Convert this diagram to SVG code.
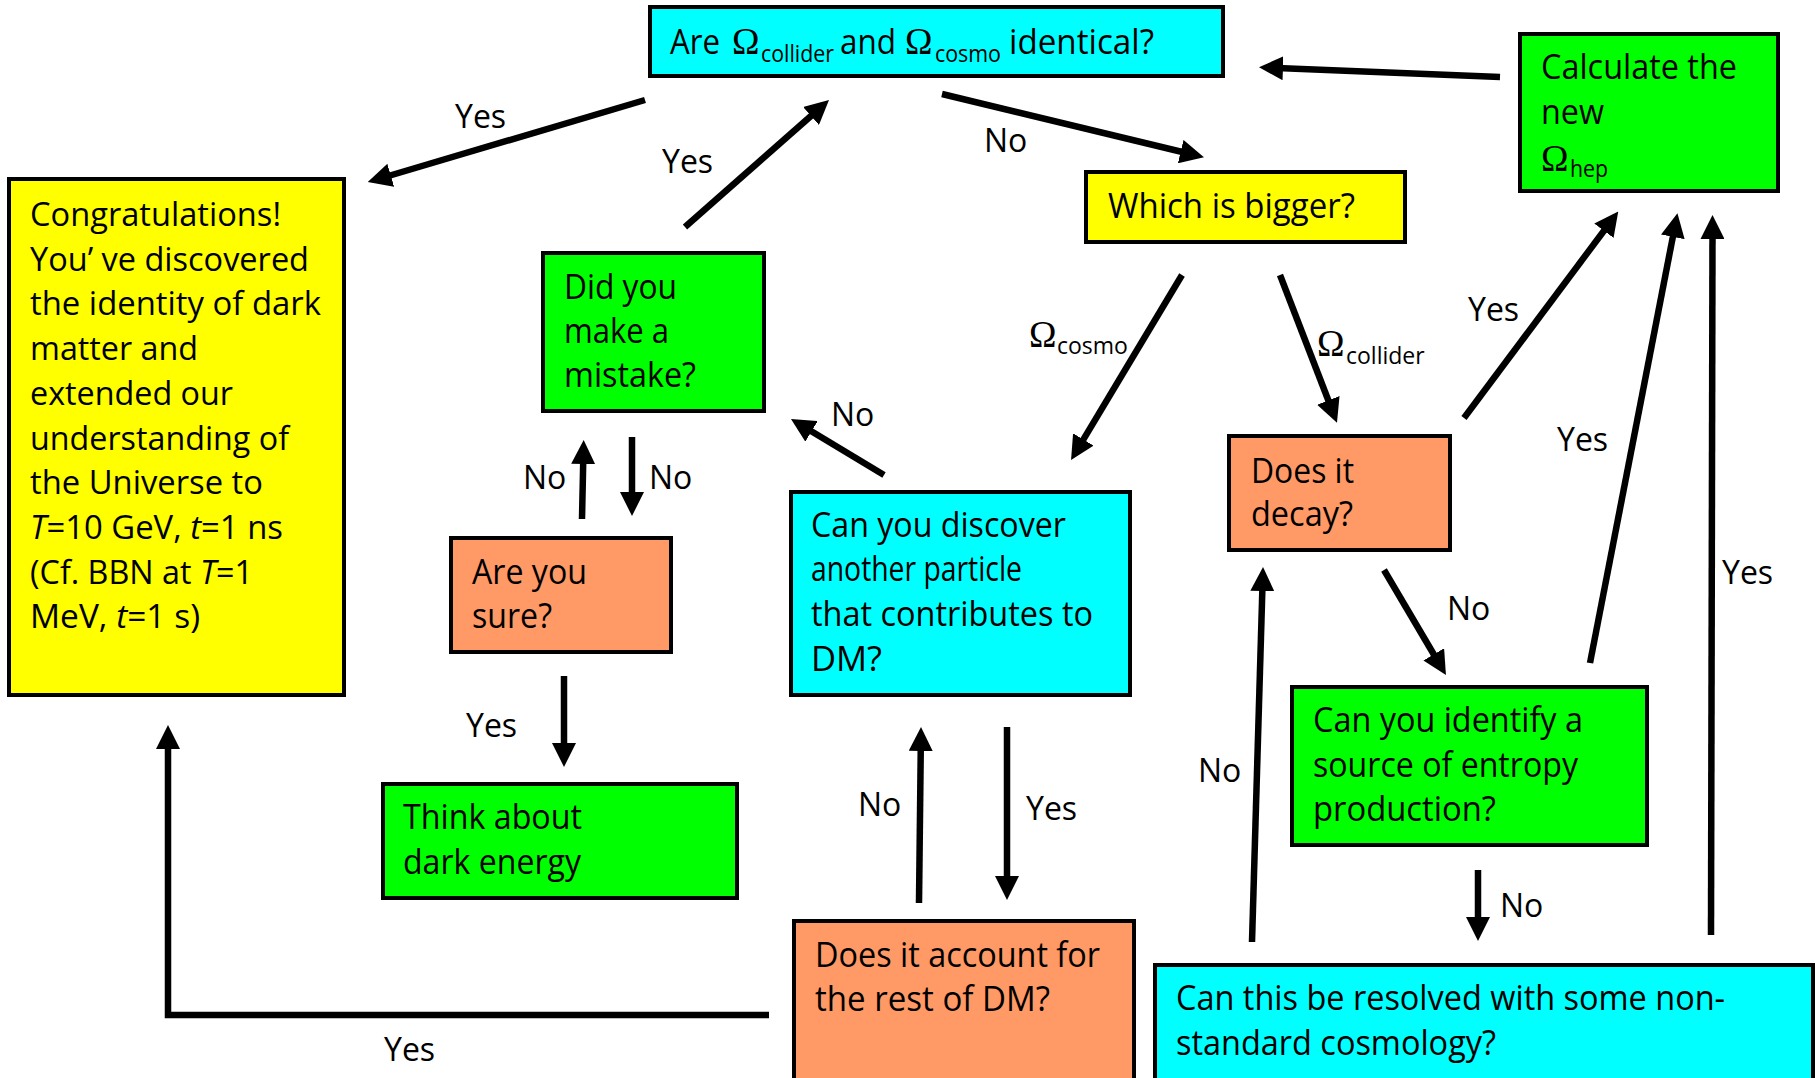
<svg xmlns="http://www.w3.org/2000/svg" width="1815" height="1078" viewBox="0 0 1815 1078">
<style>
.box{stroke:#000;stroke-width:4}
.cy{fill:#00FFFF}.gr{fill:#00FF00}.ye{fill:#FFFF00}.or{fill:#FF9966}
.t{font-family:"Open Sans","Liberation Sans",sans-serif;font-size:35px;fill:#000}
.y{font-size:32px}
.l{font-family:"Open Sans","Liberation Sans",sans-serif;font-size:32px;fill:#000}
.s{font-family:"Open Sans","Liberation Sans",sans-serif;font-size:23px;fill:#000}
.o{font-family:"Liberation Serif","Times New Roman",serif;font-size:37px;fill:#000}
.c line,.c polyline{stroke:#000;stroke-width:6.5;fill:none;marker-end:url(#ah)}
</style>
<defs>
<marker id="ah" markerUnits="userSpaceOnUse" markerWidth="24" markerHeight="24" viewBox="0 0 24 24" refX="6" refY="12" orient="auto">
<path d="M0,0 L24,12 L0,24 z" fill="#000"/>
</marker>
</defs>
<rect width="1815" height="1078" fill="#fff"/>

<g id="n-identical">
<rect class="box cy" x="650" y="7" width="573" height="69"/>
<text class="t" x="670" y="54" textLength="50" lengthAdjust="spacingAndGlyphs">Are</text>
<text class="o" x="732" y="54">Ω</text>
<text class="s" x="761" y="62" textLength="73" lengthAdjust="spacingAndGlyphs">collider</text>
<text class="t" x="840" y="54" textLength="56" lengthAdjust="spacingAndGlyphs">and</text>
<text class="o" x="905" y="54">Ω</text>
<text class="s" x="935" y="62" textLength="66" lengthAdjust="spacingAndGlyphs">cosmo</text>
<text class="t" x="1009" y="54" textLength="145" lengthAdjust="spacingAndGlyphs">identical?</text>
</g>

<g id="n-calculate">
<rect class="box gr" x="1520" y="34" width="258" height="157"/>
<text class="t" x="1541" y="79" textLength="196" lengthAdjust="spacingAndGlyphs">Calculate the</text>
<text class="t" x="1541" y="124" textLength="63" lengthAdjust="spacingAndGlyphs">new</text>
<text class="o" x="1541" y="171">Ω</text>
<text class="s" x="1570" y="177" textLength="38" lengthAdjust="spacingAndGlyphs">hep</text>
</g>

<g id="n-congrats">
<rect class="box ye" x="9" y="179" width="335" height="516"/>
<text class="t y" x="30" y="226" textLength="251" lengthAdjust="spacingAndGlyphs">Congratulations!</text>
<text class="t y" x="30" y="271" textLength="279" lengthAdjust="spacingAndGlyphs">You’ ve discovered</text>
<text class="t y" x="30" y="315" textLength="291" lengthAdjust="spacingAndGlyphs">the identity of dark</text>
<text class="t y" x="30" y="360" textLength="168" lengthAdjust="spacingAndGlyphs">matter and</text>
<text class="t y" x="30" y="405" textLength="203" lengthAdjust="spacingAndGlyphs">extended our</text>
<text class="t y" x="30" y="450" textLength="259" lengthAdjust="spacingAndGlyphs">understanding of</text>
<text class="t y" x="30" y="494" textLength="233" lengthAdjust="spacingAndGlyphs">the Universe to</text>
<text class="t y" x="30" y="539" textLength="253" lengthAdjust="spacingAndGlyphs"><tspan font-style="italic">T</tspan>=10 GeV, <tspan font-style="italic">t</tspan>=1 ns</text>
<text class="t y" x="30" y="584" textLength="223" lengthAdjust="spacingAndGlyphs">(Cf. BBN at <tspan font-style="italic">T</tspan>=1</text>
<text class="t y" x="30" y="628" textLength="170" lengthAdjust="spacingAndGlyphs">MeV, <tspan font-style="italic">t</tspan>=1 s)</text>
</g>

<g id="n-bigger">
<rect class="box ye" x="1086" y="172" width="319" height="70"/>
<text class="t" x="1108" y="218" textLength="247" lengthAdjust="spacingAndGlyphs">Which is bigger?</text>
</g>

<g id="n-mistake">
<rect class="box gr" x="543" y="253" width="221" height="158"/>
<text class="t" x="564" y="299" textLength="113" lengthAdjust="spacingAndGlyphs">Did you</text>
<text class="t" x="564" y="343" textLength="105" lengthAdjust="spacingAndGlyphs">make a</text>
<text class="t" x="564" y="387" textLength="132" lengthAdjust="spacingAndGlyphs">mistake?</text>
</g>

<g id="n-sure">
<rect class="box or" x="451" y="538" width="220" height="114"/>
<text class="t" x="472" y="584" textLength="115" lengthAdjust="spacingAndGlyphs">Are you</text>
<text class="t" x="472" y="628" textLength="80" lengthAdjust="spacingAndGlyphs">sure?</text>
</g>

<g id="n-discover">
<rect class="box cy" x="791" y="492" width="339" height="203"/>
<text class="t" x="811" y="537" textLength="255" lengthAdjust="spacingAndGlyphs">Can you discover</text>
<text class="t" x="811" y="581" textLength="211" lengthAdjust="spacingAndGlyphs">another particle</text>
<text class="t" x="811" y="626" textLength="282" lengthAdjust="spacingAndGlyphs">that contributes to</text>
<text class="t" x="811" y="671" textLength="71" lengthAdjust="spacingAndGlyphs">DM?</text>
</g>

<g id="n-decay">
<rect class="box or" x="1229" y="436" width="221" height="114"/>
<text class="t" x="1251" y="483" textLength="103" lengthAdjust="spacingAndGlyphs">Does it</text>
<text class="t" x="1251" y="526" textLength="102" lengthAdjust="spacingAndGlyphs">decay?</text>
</g>

<g id="n-darkenergy">
<rect class="box gr" x="383" y="784" width="354" height="114"/>
<text class="t" x="403" y="829" textLength="179" lengthAdjust="spacingAndGlyphs">Think about</text>
<text class="t" x="403" y="874" textLength="178" lengthAdjust="spacingAndGlyphs">dark energy</text>
</g>

<g id="n-entropy">
<rect class="box gr" x="1292" y="687" width="355" height="158"/>
<text class="t" x="1313" y="732" textLength="270" lengthAdjust="spacingAndGlyphs">Can you identify a</text>
<text class="t" x="1313" y="777" textLength="265" lengthAdjust="spacingAndGlyphs">source of entropy</text>
<text class="t" x="1313" y="821" textLength="183" lengthAdjust="spacingAndGlyphs">production?</text>
</g>

<g id="n-account">
<rect class="box or" x="794" y="921" width="340" height="170"/>
<text class="t" x="815" y="967" textLength="285" lengthAdjust="spacingAndGlyphs">Does it account for</text>
<text class="t" x="815" y="1011" textLength="235" lengthAdjust="spacingAndGlyphs">the rest of DM?</text>
</g>

<g id="n-nonstandard">
<rect class="box cy" x="1155" y="965" width="658" height="130"/>
<text class="t" x="1176" y="1010" textLength="549" lengthAdjust="spacingAndGlyphs">Can this be resolved with some non-</text>
<text class="t" x="1176" y="1055" textLength="320" lengthAdjust="spacingAndGlyphs">standard cosmology?</text>
</g>

<g id="connectors" class="c">
<line x1="645" y1="100" x2="385" y2="177"/>
<line x1="685" y1="227" x2="815.5" y2="112"/>
<line x1="942" y1="94" x2="1186.5" y2="153"/>
<line x1="1500" y1="77" x2="1277" y2="68"/>
<line x1="1182" y1="275" x2="1080.3" y2="444.6"/>
<line x1="1280" y1="275" x2="1330.5" y2="406"/>
<line x1="884" y1="475" x2="806.4" y2="428.3"/>
<line x1="632" y1="437" x2="632" y2="498"/>
<line x1="582" y1="519" x2="583.3" y2="458"/>
<line x1="564" y1="676" x2="564" y2="749"/>
<line x1="919" y1="903" x2="920.8" y2="745"/>
<line x1="1007" y1="727" x2="1007" y2="882"/>
<polyline points="769,1015 168,1015 168,743"/>
<line x1="1464" y1="418" x2="1607.5" y2="226"/>
<line x1="1384" y1="570" x2="1436.8" y2="659.5"/>
<line x1="1590" y1="663" x2="1674" y2="231"/>
<line x1="1478" y1="870" x2="1478" y2="923"/>
<line x1="1252" y1="942" x2="1262.5" y2="585"/>
<line x1="1711" y1="935" x2="1712.5" y2="233"/>
</g>

<g id="labels">
<text class="l" x="455" y="128">Yes</text>
<text class="l" x="662" y="173">Yes</text>
<text class="l" x="984" y="152">No</text>
<text class="o" x="1029" y="347" font-size="35">Ω</text>
<text class="s" x="1057" y="354" font-size="22">cosmo</text>
<text class="o" x="1317" y="356" font-size="35">Ω</text>
<text class="s" x="1346" y="364" font-size="22">collider</text>
<text class="l" x="831" y="426">No</text>
<text class="l" x="523" y="489">No</text>
<text class="l" x="649" y="489">No</text>
<text class="l" x="466" y="737">Yes</text>
<text class="l" x="858" y="816">No</text>
<text class="l" x="1026" y="820">Yes</text>
<text class="l" x="384" y="1061">Yes</text>
<text class="l" x="1468" y="321">Yes</text>
<text class="l" x="1447" y="620">No</text>
<text class="l" x="1557" y="451">Yes</text>
<text class="l" x="1500" y="917">No</text>
<text class="l" x="1198" y="782">No</text>
<text class="l" x="1722" y="584">Yes</text>
</g>
</svg>
